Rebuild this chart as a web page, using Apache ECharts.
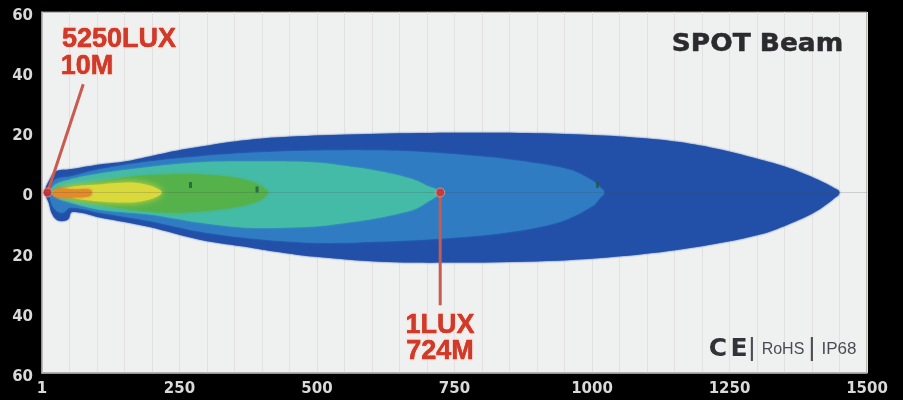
<!DOCTYPE html>
<html><head><meta charset="utf-8">
<style>html,body{margin:0;padding:0;background:#000}#c{width:903px;height:400px}</style>
<script src="https://cdn.jsdelivr.net/npm/echarts@6/dist/echarts.min.js"></script>
</head><body><div id="c"></div>
<script>
const xTicks = [0, 250, 500, 750, 1000, 1250, 1500];
const yTicks = [-60, -40, -20, 0, 20, 40, 60];
const contour1 = [[4,0],[11,3.3],[25,7],[51,7.7],[105,9.3],[151,10.3],[196,12],[242,13.8],[287,15.2],[360,17.2],[433,18.4],[560,19.3],[705,19.8],[869,19.8],[978,19.3],[1060,18.5],[1140,17.2],[1215,15],[1305,11],[1365,7.7],[1410,4.3],[1440,1.5],[1450,0],[1440,-2],[1410,-6],[1365,-10],[1305,-14],[1184,-18.3],[1064,-21],[918,-22.8],[736,-23.3],[615,-23],[493,-21.3],[433,-19.9],[378,-18.3],[287,-15.7],[196,-11.5],[105,-8.3],[55,-6.5],[47,-9],[29,-9.3],[18,-7],[12,-3.3],[7,-1.3]];
const contour2 = [[15,1],[24,4.3],[51,5.3],[105,7.7],[196,10.3],[287,12],[378,13.2],[469,13.8],[590,14],[675,13.6],[796,12],[880,10.2],[960,7.5],[1000,4],[1016,1.5],[1022,0],[1016,-1.5],[1000,-4.6],[942,-9.7],[856,-13],[736,-15.2],[615,-16.3],[493,-16.7],[378,-15.2],[287,-13],[196,-9.5],[105,-6.7],[51,-5],[38,-6.7],[24,-5.7],[15,-2.3]];
const contour3 = [[18,1.7],[51,4.3],[105,6.3],[196,8.5],[287,10],[390,10.3],[493,10],[555,8.7],[615,7],[675,4.3],[700,2.2],[720,0],[700,-3.2],[675,-5.7],[615,-8.3],[555,-10],[493,-11.3],[378,-11.7],[287,-10],[196,-7.3],[105,-5.7],[51,-3.3],[24,-1.3]];
const contour4 = [[27,1],[45,2],[105,3.7],[165,5.3],[227,6],[287,6],[347,5],[387,3.2],[406,1.2],[411,0],[406,-1.4],[387,-3.3],[347,-5],[287,-6.3],[227,-6.7],[165,-5.7],[105,-4],[45,-1.7]];
const contour5 = [[33,1],[105,2.7],[165,3.3],[196,2.3],[213,1],[218,0],[213,-1],[196,-2.3],[165,-3.3],[105,-3],[45,-1.3]];
const contour6 = [[22,1],[60,1],[91,0],[60,-1.7],[22,-1.3]];
const contourColors = ['#2250a9', '#2f7cc3', '#44bba6', '#55b24a', '#d9d93c', '#e38a2a'];
const contourBlur = [2, 2, 2, 3, 7, 3];
const contours = [contour1, contour2, contour3, contour4, contour5, contour6];
const dots = [[10, 0], [724, 0]];
const leader1 = [[10, 0], [75, 36]];
const leader2 = [[724, 0], [724, -37.5]];
const axisLine0 = [[0, 0], [1500, 0]];
const tags = [[270, 2.5], [391, 1], [1010, 2.5]];

// Rounds a closed outline in screen space: only the drawing of the edge, no values are added.
function roundOutline(p) {
  const n = p.length, out = [], d = (a, b) => Math.hypot(a[0] - b[0], a[1] - b[1]);
  const tan = (i, len) => {
    const a = p[(i - 1 + n) % n], b = p[(i + 1) % n], L = d(a, b) || 1;
    return [(b[0] - a[0]) / L * len / 3, (b[1] - a[1]) / L * len / 3];
  };
  for (let i = 0; i < n; i++) {
    const A = p[i], D = p[(i + 1) % n], len = d(A, D), t1 = tan(i, len), t2 = tan((i + 1) % n, len);
    const B = [A[0] + t1[0], A[1] + t1[1]], C = [D[0] - t2[0], D[1] - t2[1]];
    for (let k = 0; k < 8; k++) {
      const t = k / 8, u = 1 - t;
      out.push([0, 1].map(j => u*u*u*A[j] + 3*u*u*t*B[j] + 3*u*t*t*C[j] + t*t*t*D[j]));
    }
  }
  return out;
}
const poly = (pts, color, blur) => ({
  type: 'custom', coordinateSystem: 'cartesian2d', clip: true, silent: true,
  data: pts, encode: {x: 0, y: 1},
  renderItem: (params, api) => params.dataIndex !== 0 ? null : ({
    type: 'polygon',
    shape: {points: roundOutline(pts.map(p => api.coord(p)))},
    style: {fill: color, shadowBlur: blur, shadowColor: color}
  })
});
const txt = (x, y, text, font, fill, extra, el) => Object.assign({
  type: 'text', x, y, z: 50,
  style: Object.assign({text, font, fill, textAlign: 'center', textVerticalAlign: 'middle'}, extra || {})
}, el || {});
const redFont = 'bold 27px "Liberation Sans"';
const redColor = '#d03a2b';
const red = (x, y, text) => [
  txt(x, y, text, redFont, redColor, {stroke: 'rgba(255,225,215,0.7)', lineWidth: 3}),
  Object.assign(txt(x, y, text, redFont, redColor, {stroke: redColor, lineWidth: 0.4}), {z: 51})
];
const logoGrey = '#4c4c52';

const chart = echarts.init(document.getElementById('c'), null, {renderer: 'canvas'});
chart.setOption({
  animation: false,
  backgroundColor: '#000',
  grid: {left: 42, right: 36, top: 12, bottom: 27, show: true, backgroundColor: '#eff0f0', borderColor: '#8d807a', borderWidth: 1},
  xAxis: {
    type: 'value', min: xTicks[0], max: xTicks[xTicks.length - 1], interval: 250,
    axisLine: {onZero: false, lineStyle: {color: '#b5aca8', width: 1.5}},
    axisTick: {show: false},
    axisLabel: {color: '#d9d9d9', fontFamily: 'DejaVu Sans', fontWeight: 'bold', fontSize: 15, margin: 9,
      formatter: v => v === 0 ? '1' : String(v)},
    splitLine: {lineStyle: {color: '#e2e0e0', width: 1}},
    minorTick: {show: false, splitNumber: 5},
    minorSplitLine: {show: true, lineStyle: {color: '#e2e0e0', width: 1}}
  },
  yAxis: {
    type: 'value', min: yTicks[0], max: yTicks[yTicks.length - 1], interval: 20,
    axisLine: {onZero: false, lineStyle: {color: '#b5aca8', width: 1.5}},
    axisTick: {show: false},
    axisLabel: {color: '#d9d9d9', fontFamily: 'DejaVu Sans', fontWeight: 'bold', fontSize: 15, margin: 9,
      verticalAlign: 'top', lineHeight: 8, formatter: v => String(Math.abs(v))},
    splitLine: {show: false}
  },
  series: [
    ...contours.map((c, i) => poly(c, contourColors[i], contourBlur[i])),
    {type: 'line', data: axisLine0, showSymbol: false, silent: true, lineStyle: {color: 'rgba(70,70,70,0.2)', width: 1}, z: 5},
    {type: 'scatter', data: tags, symbol: 'rect', symbolSize: [3, 6], itemStyle: {color: '#1f5a4a'}, silent: true, z: 6},
    {type: 'line', data: leader1, showSymbol: false, silent: true, lineStyle: {color: '#c95a50', width: 3}, z: 7},
    {type: 'line', data: leader2, showSymbol: false, silent: true, lineStyle: {color: '#c95a50', width: 3}, z: 7},
    {type: 'scatter', data: dots, symbolSize: 9, itemStyle: {color: '#d8302a', borderColor: 'rgba(255,190,170,0.7)', borderWidth: 1}, silent: true, z: 8}
  ],
  graphic: [
    ...red(119, 40, '5250LUX'),
    ...red(87, 67, '10M'),
    ...red(440, 326, '1LUX'),
    ...red(440, 352, '724M'),
    txt(757.5, 45, 'SPOT Beam', 'bold 24px "DejaVu Sans"', '#2b2b2e', {stroke: '#2b2b2e', lineWidth: 0.5}, {scaleX: 1.1}),
    txt(718, 349, 'C', 'bold 25px "DejaVu Sans"', '#33333a'),
    txt(739, 349, 'E', 'bold 25px "DejaVu Sans"', '#33333a'),
    txt(752, 349, '|', '26px "Liberation Sans"', logoGrey),
    txt(783, 350, 'RoHS', '16px "Liberation Sans Narrow","Liberation Sans"', logoGrey),
    txt(812, 349, '|', '26px "Liberation Sans"', logoGrey),
    txt(839, 349, 'IP68', '17px "Liberation Sans Narrow","Liberation Sans"', logoGrey)
  ]
});
</script></body></html>
